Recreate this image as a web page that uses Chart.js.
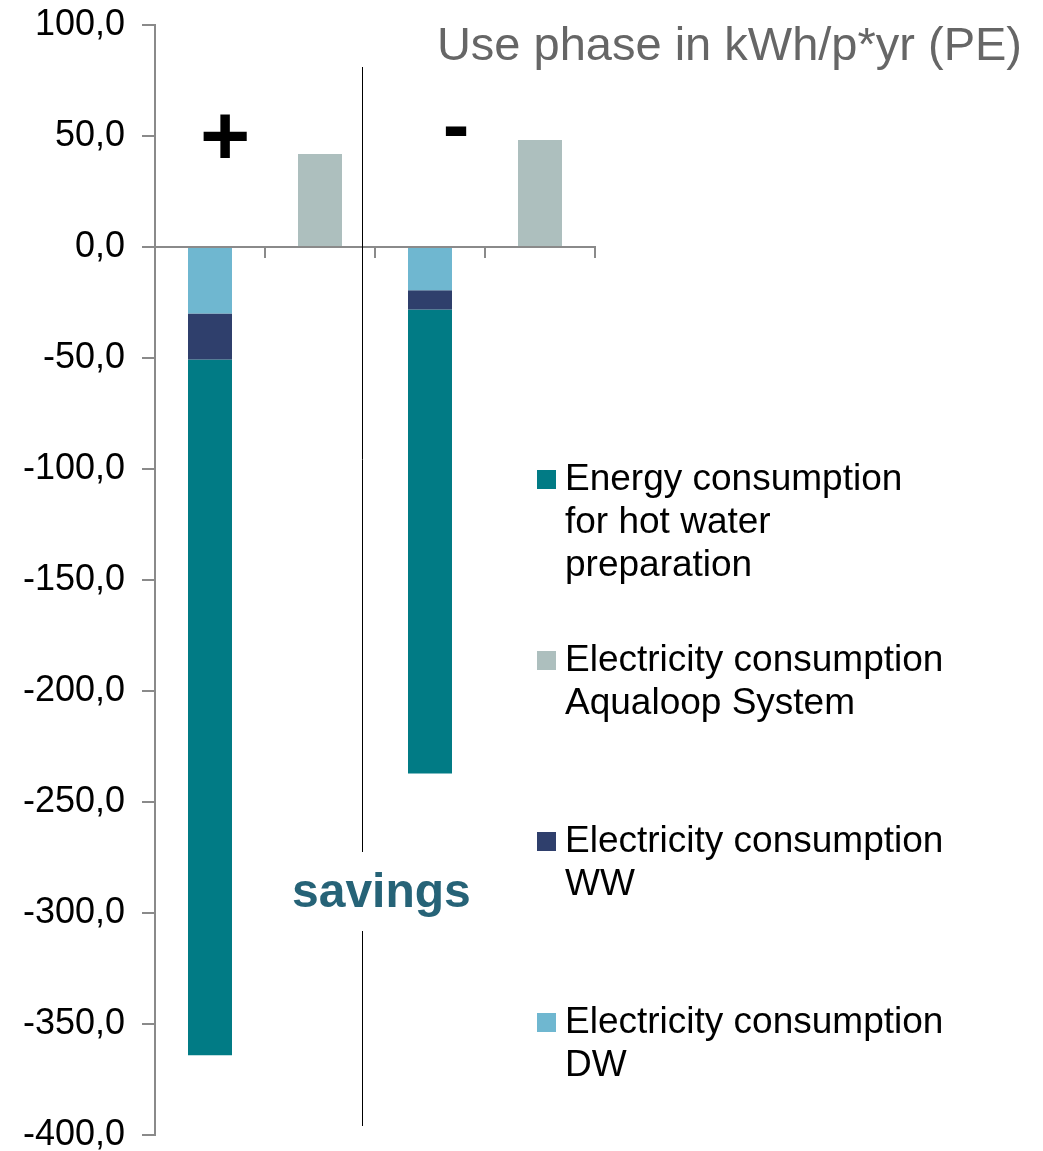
<!DOCTYPE html>
<html>
<head>
<meta charset="utf-8">
<script src="https://cdn.jsdelivr.net/npm/chart.js@4.4.1/dist/chart.umd.min.js"></script>
<style>
  body { margin: 0; overflow: hidden; background: #fff; font-family: "Liberation Sans", Arial, sans-serif; }
  #wrap { position: relative; width: 1043px; height: 1160px; }
  .txt { position: absolute; line-height: 1; white-space: nowrap; }
  #title { right: 21px; top: 20px; font-size: 47px; color: #666; }
  .sign { width: 100px; text-align: center; font-weight: bold; color: #000; }
  #savings { left: 292px; top: 867px; font-size: 48px; font-weight: bold; color: #266377; }
  .leg { position: absolute; left: 537px; font-size: 37px; line-height: 43px; color: #000; }
  .leg span.box { position: absolute; left: 0; top: 14px; width: 19px; height: 19px; }
  .leg div.lbl { margin-left: 28px; white-space: nowrap; }
</style>
</head>
<body>
<div id="wrap">
  <canvas id="myChart"></canvas>
  <div id="title" class="txt">Use phase in kWh/p*yr (PE)</div>
  <div class="txt sign" style="left:175px; top:92px; font-size:86px;">+</div>
  <div class="txt sign" style="left:406px; top:85px; font-size:80px;">-</div>
  <div id="savings" class="txt">savings</div>
  <div id="legend"></div>
</div>
<script>
var ctx = document.getElementById('myChart').getContext('2d');

// bars: two scenarios (+ / -), each with its Aqualoop column
const categories = ['+', '+ Aqualoop', '-', '- Aqualoop'];
const tickValues = [100, 50, 0, -50, -100, -150, -200, -250, -300, -350, -400];

const elecDW   = [-30.0, null, -19.5, null];
const elecWW   = [-20.7, null, -8.7, null];
const hotWater = [-313.4, null, -209.0, null];
const aqualoop = [null, 41.9, null, 48.2];

const labelHotWater = ['Energy consumption', 'for hot water', 'preparation'];
const labelAqualoop = ['Electricity consumption', 'Aqualoop System'];
const labelWW = ['Electricity consumption', 'WW'];
const labelDW = ['Electricity consumption', 'DW'];

const axisGrey = '#8a8a8a';

// vertical divider, broken where "savings" sits
const divider = {
    id: 'divider',
    afterDraw(chart) {
        let c = chart.ctx
        c.save()
        c.strokeStyle = '#000'
        c.lineWidth = 1
        c.beginPath()
        c.moveTo(362.5, 67)
        c.lineTo(362.5, 852)
        c.moveTo(362.5, 931)
        c.lineTo(362.5, 1126)
        c.stroke()
        c.restore()
    }
}

var chart = new Chart(ctx, {
    type: 'bar',
    data: {
        labels: categories,
        datasets: [
            { label: labelDW, data: elecDW, backgroundColor: '#6fb7d0' },
            { label: labelWW, data: elecWW, backgroundColor: '#2f3f6c' },
            { label: labelHotWater, data: hotWater, backgroundColor: '#017b85' },
            { label: labelAqualoop, data: aqualoop, backgroundColor: '#adbfbe' }
        ]
    },
    options: {
        responsive: true,
        maintainAspectRatio: false,
        animation: false,
        categoryPercentage: 1.0,
        barPercentage: 0.4,
        layout: { padding: { left: 0, right: 448, top: 25, bottom: 25 } },
        plugins: {
            legend: { display: false },
            tooltip: { enabled: false }
        },
        scales: {
            x: {
                stacked: true,
                offset: true,
                position: { y: 0 },
                grid: { offset: true, drawOnChartArea: false, color: axisGrey, lineWidth: 2, tickLength: 10 },
                border: { color: axisGrey, width: 2 },
                ticks: { display: false }
            },
            y: {
                stacked: true,
                min: -400,
                max: 100,
                afterFit: function (s) {
                    s.width = 155
                    s.paddingTop = 0
                    s.paddingBottom = 0
                },
                afterBuildTicks: function (s) { s.ticks = tickValues.map(v => ({ value: v })) },
                grid: { drawOnChartArea: false, color: axisGrey, lineWidth: 2, tickLength: 13 },
                border: { color: axisGrey, width: 2 },
                ticks: {
                    padding: 17,
                    color: '#000',
                    font: { family: '"Liberation Sans", Arial, sans-serif', size: 36 },
                    callback: v => v.toFixed(1).replace('.', ',')
                }
            }
        }
    },
    plugins: [divider]
});

// legend, same order as the reference
let legendOrder = [2, 3, 1, 0]
let legendTops = [456, 637, 818, 999]
let legend = document.getElementById('legend')
legendOrder.forEach((di, i) => {
    let ds = chart.data.datasets[di]
    let item = document.createElement('div')
    item.className = 'leg'
    item.style.top = legendTops[i] + 'px'
    let box = document.createElement('span')
    box.className = 'box'
    box.style.background = ds.backgroundColor
    item.appendChild(box)
    ds.label.forEach(line => {
        let l = document.createElement('div')
        l.className = 'lbl'
        l.textContent = line
        item.appendChild(l)
    })
    legend.appendChild(item)
})
</script>
</body>
</html>
